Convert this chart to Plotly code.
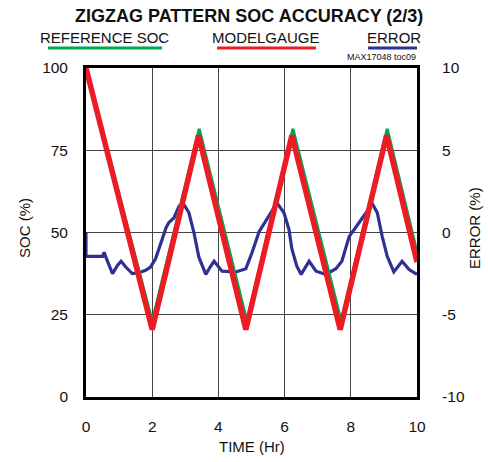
import plotly.graph_objects as go

# ---------------- data ----------------
ref_time = [0, 2.0, 3.42, 4.86, 6.25, 7.71, 9.1, 10]
ref_soc = [100, 23, 81.5, 23, 81.5, 23, 81.5, 44]

mg_time = [0, 2.0, 3.4, 4.83, 6.22, 7.68, 9.08, 10]
mg_soc = [100, 20.5, 79.5, 20.5, 79.5, 20.5, 79.5, 41]

err_time = [0, 0, 0.5, 0.55, 0.6, 0.8, 0.95, 1.06, 1.2, 1.4, 1.6, 1.8, 1.95, 2.1,
            2.27, 2.42, 2.5, 2.66, 2.81, 2.93, 3.11, 3.26, 3.41, 3.62, 3.75, 3.87,
            4.11, 4.53, 4.83, 5.02, 5.23, 5.44, 5.62, 5.77, 5.98, 6.13, 6.22, 6.37,
            6.5, 6.62, 6.74, 6.95, 7.25, 7.55, 7.73, 7.95, 8.16, 8.46, 8.64, 8.8,
            8.95, 9.1, 9.3, 9.45, 9.55, 9.76, 10]
err_val = [0, -1.45, -1.45, -1.2, -1.5, -2.5, -2.0, -1.75, -2.1, -2.5, -2.45, -2.3, -2.1, -1.6,
           -0.6, 0.3, 0.6, 0.9, 1.6, 1.8, 1.2, 0.0, -1.5, -2.55, -2.1, -1.75,
           -2.35, -2.4, -2.2, -1.2, 0.05, 0.7, 1.3, 1.8, 1.2, 0.2, -1.0, -2.05,
           -2.55, -2.1, -1.75, -2.35, -2.55, -2.2, -1.75, -0.25, 0.35, 1.2, 1.8, 1.2,
           -0.25, -1.45, -2.4, -2.0, -1.75, -2.25, -2.55]

x_ticks = [0, 2, 4, 6, 8, 10]
soc_ticks = [0, 25, 50, 75, 100]
err_ticks = [-10, -5, 0, 5, 10]
err_tick_labels = ["-10", "-5", "0", "5", "10"]

# ---------------- layout helpers ----------------
W, H = 488, 462
L, R, T, B = 86, 417, 68, 397


def px(xp):
    return (xp - L) / (R - L)


def py(yp):
    return (B - yp) / (B - T)


FONT = "Liberation Sans, Arial, sans-serif"
GREEN = "#00A651"
RED = "#ED1C24"
BLUE = "#2E3192"
TXT = "#111111"

fig = go.Figure()
fig.add_trace(go.Scatter(x=err_time, y=err_val, mode="lines", yaxis="y",
                         line=dict(color=BLUE, width=3.2), name="ERROR"))
fig.add_trace(go.Scatter(x=ref_time, y=ref_soc, mode="lines", yaxis="y2",
                         line=dict(color=GREEN, width=3), name="REFERENCE SOC"))
fig.add_trace(go.Scatter(x=mg_time, y=mg_soc, mode="lines", yaxis="y2",
                         line=dict(color=RED, width=5.5), name="MODELGAUGE"))

fig.update_layout(
    width=W, height=H,
    margin=dict(l=L, r=W - R, t=T, b=H - B, pad=0, autoexpand=False),
    paper_bgcolor="white", plot_bgcolor="white",
    showlegend=False,
    font=dict(family=FONT, size=15, color=TXT),
    xaxis=dict(range=[0, 10], tickvals=x_ticks, ticks="", showgrid=True,
               gridcolor="#444", gridwidth=1.3, zeroline=False,
               showline=True, linecolor="black", linewidth=3, mirror=True,
               ticklabelstandoff=13, tickfont=dict(size=15.5)),
    yaxis=dict(range=[-10, 10], tickvals=err_ticks, ticktext=err_tick_labels,
               side="right", ticks="",
               showgrid=True, gridcolor="#444", gridwidth=1.3, zeroline=False,
               showline=True, linecolor="black", linewidth=3, mirror=True,
               ticklabelstandoff=19, tickfont=dict(size=15.5)),
    yaxis2=dict(range=[0, 100], tickvals=soc_ticks, side="left", overlaying="y",
                ticks="", showgrid=False, zeroline=False, showline=False,
                ticklabelstandoff=17, tickfont=dict(size=15.5)),
)

ann = [
    dict(text="<b>ZIGZAG PATTERN SOC ACCURACY (2/3)</b>", x=px(249), y=py(16), size=18),
    dict(text="REFERENCE SOC", x=px(104), y=py(38), size=15),
    dict(text="MODELGAUGE", x=px(266), y=py(38), size=15),
    dict(text="ERROR", x=px(394), y=py(38), size=15),
    dict(text="TIME (Hr)", x=px(252), y=py(446), size=15),
]
for a in ann:
    fig.add_annotation(text=a["text"], x=a["x"], y=a["y"], xref="paper", yref="paper",
                       xanchor="center", yanchor="middle", showarrow=False,
                       font=dict(family=FONT, size=a["size"], color=TXT))

fig.add_annotation(text="MAX17048 toc09", x=px(418), y=py(57), xref="paper", yref="paper",
                   xanchor="right", yanchor="middle", showarrow=False,
                   font=dict(family=FONT, size=9, color=TXT))
fig.add_annotation(text="SOC (%)", x=px(25), y=py(228), xref="paper", yref="paper",
                   xanchor="center", yanchor="middle", showarrow=False, textangle=-90,
                   font=dict(family=FONT, size=15, color=TXT))
fig.add_annotation(text="ERROR (%)", x=px(475), y=py(228), xref="paper", yref="paper",
                   xanchor="center", yanchor="middle", showarrow=False, textangle=-90,
                   font=dict(family=FONT, size=15, color=TXT))

for x0, x1, c in [(48, 162, GREEN), (217, 316, RED), (368, 417, BLUE)]:
    fig.add_shape(type="line", xref="paper", yref="paper", x0=px(x0), x1=px(x1),
                  y0=py(48), y1=py(48), line=dict(color=c, width=3))

fig.write_html("out.html", config={"displayModeBar": False},
               post_script="document.body.style.margin='0';")
